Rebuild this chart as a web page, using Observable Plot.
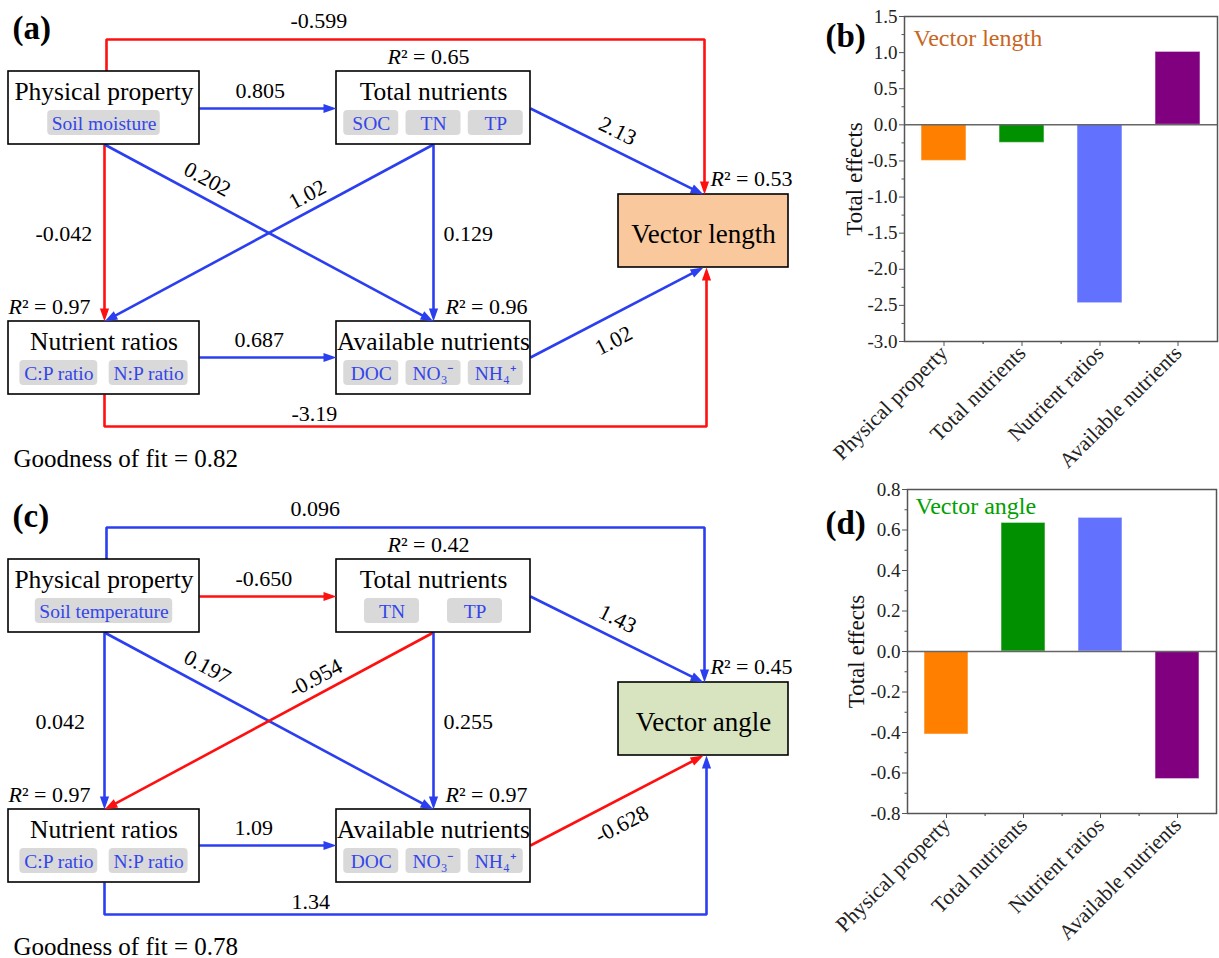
<!DOCTYPE html>
<html><head><meta charset="utf-8">
<script src="https://cdn.jsdelivr.net/npm/d3@7"></script>
<script src="https://cdn.jsdelivr.net/npm/@observablehq/plot@0.6"></script>
<style>
body{margin:0;background:#fff;}
#fig{position:relative;width:1219px;height:958px;overflow:hidden;background:#fff;}
.panel{position:absolute;}
.panel svg{background:transparent !important;max-width:none !important;}
</style></head><body><div id="fig"></div>
<script>
// ================= DATA =================
const nodeKeys = ["PP", "TN", "NR", "AN"];
const nodeNames = ["Physical property", "Total nutrients", "Nutrient ratios", "Available nutrients"];
const indicatorsA = [["Soil moisture"], ["SOC", "TN", "TP"], ["C:P ratio", "N:P ratio"], ["DOC", "NO₃⁻", "NH₄⁺"]];
const indicatorsC = [["Soil temperature"], ["TN", "TP"], ["C:P ratio", "N:P ratio"], ["DOC", "NO₃⁻", "NH₄⁺"]];
const responseA = "Vector length";
const responseC = "Vector angle";
const edgeFrom = ["PP", "PP", "TN", "PP", "PP", "TN", "TN", "NR", "AN", "NR"];
const edgeTo   = ["OUT", "TN", "OUT", "NR", "AN", "NR", "AN", "AN", "OUT", "OUT"];
const coefA = ["-0.599", "0.805", "2.13", "-0.042", "0.202", "1.02", "0.129", "0.687", "1.02", "-3.19"];
const coefC = ["0.096", "-0.650", "1.43", "0.042", "0.197", "-0.954", "0.255", "1.09", "-0.628", "1.34"];
const r2Nodes = ["TN", "OUT", "NR", "AN"];
const r2A = ["0.65", "0.53", "0.97", "0.96"];
const r2C = ["0.42", "0.45", "0.97", "0.97"];
const fitA = "0.82";
const fitC = "0.78";
const effectCats = ["Physical property", "Total nutrients", "Nutrient ratios", "Available nutrients"];
const lengthEffects = [-0.50, -0.25, -2.47, 1.01];
const angleEffects = [-0.41, 0.635, 0.66, -0.63];
const lengthTicks = [-3.0, -2.5, -2.0, -1.5, -1.0, -0.5, 0.0, 0.5, 1.0, 1.5];
const angleTicks = [-0.8, -0.6, -0.4, -0.2, 0.0, 0.2, 0.4, 0.6, 0.8];

// ================= STYLE / LAYOUT =================
const FONT = "Liberation Serif";
const RED = "#ff1010", BLUE = "#2b3ff0", TAGBLUE = "#3446ea", TAGFILL = "#d9d9d9";
const barColors = ["#ff8000", "#009000", "#6272ff", "#800080"];
const W = 800, H = 480;
const BOX = {PP: [8, 199, 71, 144], TN: [336, 530, 71, 144], NR: [8, 199, 321, 394], AN: [336, 530, 321, 394], OUT: [618, 788, 194, 267]};
const ROUTE = [
  [[106, 71], [106, 39], [704, 39], [704, 194]],
  [[199, 108], [336, 108]],
  [[530, 108], [703, 194]],
  [[104, 144], [104, 321]],
  [[104, 144], [433, 321]],
  [[433, 144], [104, 321]],
  [[433, 144], [433, 321]],
  [[199, 357], [336, 357]],
  [[530, 357], [703, 267]],
  [[104, 394], [104, 426], [706, 426], [706, 267]]
];
// label anchor [x, y, rotatedAlongEdge]
const LABEL_AT = [[290, 27, false], [235, 97, false], [600, 122, true], [35, 240, false], [185, 167, true],
                  [290, 203, true], [443, 240, false], [234, 346, false], [596, 349, true], [291, 420, false]];
const R2_AT = {TN: [387, 63], OUT: [710, 185], NR: [8, 313], AN: [445, 313]};

const cnv = document.createElement("canvas").getContext("2d");
function measure(t, font) { cnv.font = font; return cnv.measureText(t).width; }

const HEAD = {draw(ctx) { const L = 13, w = 4.6; ctx.moveTo(0, 0); ctx.lineTo(-w, L); ctx.lineTo(w, L); ctx.closePath(); }};

function diagram(indicators, coefs, r2s, response, responseFill, fit, tag) {
  const boxes = nodeKeys.map((k, i) => ({key: k, name: nodeNames[i], x1: BOX[k][0], x2: BOX[k][1], y1: BOX[k][2], y2: BOX[k][3]}));
  const out = {key: "OUT", name: response, x1: BOX.OUT[0], x2: BOX.OUT[1], y1: BOX.OUT[2], y2: BOX.OUT[3]};
  const tags = [];
  nodeKeys.forEach((k, i) => {
    const [x1, x2, y1] = BOX[k];
    const list = indicators[i];
    const ws = list.map(t => Math.max(55, measure(t, `19.5px "${FONT}"`) + 8));
    const gap = (x2 - x1 - d3.sum(ws)) / (list.length + 1);
    let x = x1 + gap;
    list.forEach((t, j) => { tags.push({text: t, x1: x, x2: x + ws[j], y1: y1 + 39, y2: y1 + 64}); x += ws[j] + gap; });
  });
  const lines = [], heads = [], straight = [], rotated = [];
  ROUTE.forEach((pts, i) => {
    const color = +coefs[i] < 0 ? RED : BLUE;
    const n = pts.length;
    const [xa, ya] = pts[n - 2], [xb, yb] = pts[n - 1];
    const len = Math.hypot(xb - xa, yb - ya), ux = (xb - xa) / len, uy = (yb - ya) / len;
    pts.slice(0, n - 1).concat([[xb - ux * 8, yb - uy * 8]]).forEach(p => lines.push({edge: i, x: p[0], y: p[1], color}));
    heads.push({x: xb, y: yb, angle: Math.atan2(ux, -uy) * 180 / Math.PI, color});
    const [lx, ly, rot] = LABEL_AT[i];
    if (rot) {
      let a = Math.atan2(pts[n - 1][1] - pts[0][1], pts[n - 1][0] - pts[0][0]) * 180 / Math.PI;
      if (a > 90) a -= 180; if (a < -90) a += 180;
      rotated.push({x: lx, y: ly, text: coefs[i], angle: a});
    } else straight.push({x: lx, y: ly, text: coefs[i]});
  });
  const r2 = r2Nodes.map((k, i) => ({x: R2_AT[k][0], y: R2_AT[k][1], v: r2s[i]}));
  const rW = measure("R", `italic 22px "${FONT}"`);
  const txt = {fontFamily: FONT};
  return Plot.plot({
    width: W, height: H, margin: 0,
    style: {fontFamily: FONT, background: "transparent", color: "#000"},
    x: {domain: [0, W], range: [0, W], axis: null},
    y: {domain: [0, H], range: [0, H], axis: null},
    marks: [
      Plot.line(lines, {x: "x", y: "y", z: "edge", stroke: "color", strokeWidth: 2.6, strokeLinejoin: "miter", strokeLinecap: "butt"}),
      Plot.rect(boxes, {x1: "x1", x2: "x2", y1: "y1", y2: "y2", fill: "white", stroke: "#000", strokeWidth: 1.6}),
      Plot.rect([out], {x1: "x1", x2: "x2", y1: "y1", y2: "y2", fill: responseFill, stroke: "#000", strokeWidth: 1.6}),
      Plot.dot(heads, {x: "x", y: "y", symbol: HEAD, rotate: "angle", fill: "color", stroke: null, r: 5}),
      Plot.rect(tags, {x1: "x1", x2: "x2", y1: "y1", y2: "y2", fill: TAGFILL, rx: 4}),
      Plot.text(tags, {x: d => (d.x1 + d.x2) / 2, y: d => d.y2 - 6, text: "text", fill: TAGBLUE, fontSize: 19.5, lineAnchor: "bottom", ...txt}),
      Plot.text(boxes, {x: d => (d.x1 + d.x2) / 2, y: d => d.y1 + 28.5, text: "name", fontSize: 25.5, lineAnchor: "bottom", ...txt}),
      Plot.text([out], {x: d => (d.x1 + d.x2) / 2, y: d => d.y1 + 48.5, text: "name", fontSize: 27, lineAnchor: "bottom", ...txt}),
      Plot.text(straight, {x: "x", y: "y", text: "text", fontSize: 22, textAnchor: "start", lineAnchor: "bottom", ...txt}),
      Plot.text(rotated, {x: "x", y: "y", text: "text", rotate: "angle", fontSize: 22, textAnchor: "start", lineAnchor: "middle", ...txt}),
      Plot.text(r2, {x: "x", y: "y", text: () => "R", fontStyle: "italic", fontSize: 22, textAnchor: "start", lineAnchor: "bottom", ...txt}),
      Plot.text(r2, {x: "x", y: "y", dx: rW, text: d => "² = " + d.v, fontSize: 22, textAnchor: "start", lineAnchor: "bottom", ...txt}),
      Plot.text([{x: 13, y: 466, t: "Goodness of fit = " + fit}], {x: "x", y: "y", text: "t", fontSize: 25, textAnchor: "start", lineAnchor: "bottom", ...txt}),
      Plot.text([{x: 12, y: 38, t: tag}], {x: "x", y: "y", text: "t", fontSize: 33, fontWeight: "bold", textAnchor: "start", lineAnchor: "bottom", ...txt})
    ]
  });
}

function bars(values, ticks, title, titleColor, tag, o) {
  const data = effectCats.map((c, i) => ({cat: c, v: values[i], color: barColors[i]}));
  const fw = o.width - o.ml - o.mr, fh = o.height - o.mt - o.mb, step = fw / effectCats.length;
  const minor = d3.range(ticks.length - 1).map(i => (ticks[i] + ticks[i + 1]) / 2);
  const txt = {fontFamily: FONT};
  return Plot.plot({
    width: o.width, height: o.height, marginLeft: o.ml, marginRight: o.mr, marginTop: o.mt, marginBottom: o.mb,
    style: {fontFamily: FONT, background: "transparent", color: "#222"},
    x: {domain: effectCats, paddingInner: 0.425, paddingOuter: 0.2125, axis: null, label: null},
    y: {domain: [ticks[0], ticks[ticks.length - 1]], axis: null, label: null},
    marks: [
      Plot.barY(data, {x: "cat", y: "v", fill: "color", stroke: "white", strokeOpacity: 0.45, strokeWidth: 1.2}),
      Plot.ruleY([0], {stroke: "#666", strokeWidth: 1.5}),
      Plot.frame({stroke: "#555", strokeWidth: 1.5}),
      Plot.axisY({ticks: ticks, tickFormat: d => d.toFixed(1), tickSize: 5, tickPadding: 2, fontSize: 19, label: null, stroke: "#555", ...txt}),
      Plot.axisY({ticks: minor, tickFormat: () => "", tickSize: 2.5, label: null, stroke: "#555"}),
      Plot.axisX({tickRotate: -45, tickSize: 5, tickPadding: 3, fontSize: 21.5, label: null, stroke: "#555", ...txt}),
      Plot.ruleX(effectCats.slice(0, -1), {x: d => d, dx: step / 2, insetTop: fh, insetBottom: -3, stroke: "#555", strokeWidth: 1.2}),
      Plot.text(["Total effects"], {frameAnchor: "left", dx: o.ylabelDx, rotate: -90, fontSize: 23, textAnchor: "middle", lineAnchor: "middle", text: d => d, fill: "#111", ...txt}),
      Plot.text([tag], {frameAnchor: "top-left", dx: o.tagDx, dy: o.tagDy, text: d => d, fontSize: 33, fontWeight: "bold", textAnchor: "start", lineAnchor: "bottom", fill: "#000", ...txt}),
      Plot.text([title], {frameAnchor: "top-left", dx: o.titleDx, dy: o.titleDy, text: d => d, fontSize: 24, textAnchor: "start", lineAnchor: "bottom", fill: titleColor, ...txt})
    ]
  });
}

const fig = document.getElementById("fig");
function place(svg, left, top, w, h) {
  const d = document.createElement("div");
  d.className = "panel";
  d.style.left = left + "px"; d.style.top = top + "px"; d.style.width = w + "px"; d.style.height = h + "px";
  d.appendChild(svg); fig.appendChild(d);
}
place(diagram(indicatorsA, coefA, r2A, responseA, "#f9c89c", fitA, "(a)"), 0, 0, W, H);
place(diagram(indicatorsC, coefC, r2C, responseC, "#d8e4bf", fitC, "(c)"), 0, 488, W, H - 10);
place(bars(lengthEffects, lengthTicks, "Vector length", "#c8651e", "(b)",
  {width: 419, height: 480, ml: 104, mr: 2, mt: 16, mb: 139, ylabelDx: -50, tagDx: -79, tagDy: 30, titleDx: 9, titleDy: 29}), 800, 0, 419, 480);
place(bars(angleEffects, angleTicks, "Vector angle", "#00a000", "(d)",
  {width: 419, height: 488, ml: 107, mr: 3, mt: 19, mb: 145, ylabelDx: -51, tagDx: -82, tagDy: 44, titleDx: 8, titleDy: 24}), 800, 470, 419, 488);
</script></body></html>
